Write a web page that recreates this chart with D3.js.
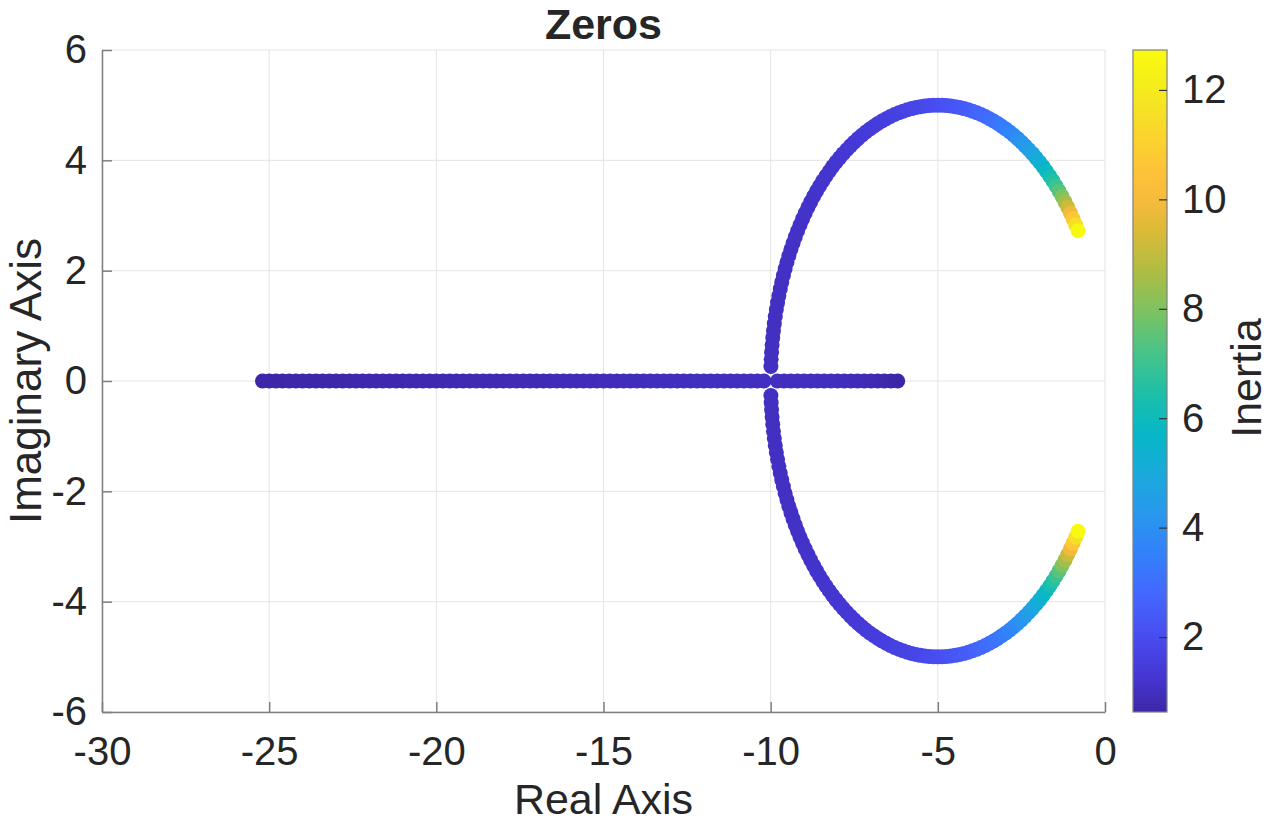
<!DOCTYPE html>
<html><head><meta charset="utf-8">
<script src="https://cdn.jsdelivr.net/npm/d3@7"></script>
<style>
body{margin:0;background:#fff;}
svg{display:block;}
text{font-family:"Liberation Sans",Arial,Helvetica,sans-serif;}
</style>
</head><body>
<svg id="chart" width="1271" height="824"></svg>
<script>
// ---------- data ----------
const xTicks = [-30, -25, -20, -15, -10, -5, 0];
const yTicks = [-6, -4, -2, 0, 2, 4, 6];
const cbTicks = [2, 4, 6, 8, 10, 12];
const inertiaRange = [0.63, 12.73];

// real-axis zeros (real part) and their inertia
const realRe = [
 -25.2,-25.0,-24.8,-24.6,-24.4,-24.2,-24.0,-23.8,-23.6,-23.4,-23.2,-23.0,-22.8,-22.6,-22.4,-22.2,
 -22.0,-21.8,-21.6,-21.4,-21.2,-21.0,-20.8,-20.6,-20.4,-20.2,-20.0,-19.8,-19.6,-19.4,-19.2,-19.0,
 -18.8,-18.6,-18.4,-18.2,-18.0,-17.8,-17.6,-17.4,-17.2,-17.0,-16.8,-16.6,-16.4,-16.2,-16.0,-15.8,
 -15.6,-15.4,-15.2,-15.0,-14.8,-14.6,-14.4,-14.2,-14.0,-13.8,-13.6,-13.4,-13.2,-13.0,-12.8,-12.6,
 -12.4,-12.2,-12.0,-11.8,-11.6,-11.4,-11.2,-11.0,-10.8,-10.6,-10.4,-10.2,
 -9.8,-9.6,-9.4,-9.2,-9.0,-8.8,-8.6,-8.4,-8.2,-8.0,-7.8,-7.6,-7.4,-7.2,-7.0,-6.8,-6.6,-6.4,-6.2
];
const realJ = [
 0.64,0.65,0.65,0.65,0.66,0.66,0.67,0.67,0.67,0.68,0.68,0.69,0.69,0.70,0.70,0.70,
 0.71,0.71,0.72,0.72,0.73,0.73,0.74,0.74,0.75,0.75,0.76,0.76,0.77,0.77,0.78,0.78,
 0.79,0.79,0.80,0.80,0.81,0.82,0.82,0.83,0.83,0.84,0.84,0.85,0.86,0.86,0.87,0.87,
 0.88,0.89,0.89,0.90,0.90,0.91,0.92,0.92,0.93,0.93,0.94,0.94,0.95,0.96,0.96,0.97,
 0.97,0.98,0.98,0.99,0.99,1.00,1.00,1.00,1.00,1.01,1.01,1.01,
 1.01,1.01,1.01,1.00,1.00,0.99,0.98,0.97,0.96,0.95,0.93,0.91,0.89,0.86,0.82,0.79,0.74,0.69,0.63
];

// complex zeros (upper half; each has a conjugate partner) and their inertia
const cplxRe = [
 -9.993,-9.985,-9.973,-9.957,-9.938,-9.916,-9.891,-9.862,-9.830,-9.794,-9.755,-9.713,-9.668,-9.619,-9.568,-9.513,
 -9.455,-9.394,-9.330,-9.263,-9.193,-9.121,-9.045,-8.967,-8.886,-8.802,-8.716,-8.627,-8.536,-8.442,-8.346,-8.247,
 -8.147,-8.044,-7.939,-7.832,-7.723,-7.613,-7.500,-7.386,-7.270,-7.153,-7.034,-6.913,-6.792,-6.669,-6.545,-6.420,
 -6.294,-6.167,-6.040,-5.911,-5.782,-5.653,-5.523,-5.392,-5.262,-5.131,-5.000,-4.869,-4.738,-4.608,-4.477,-4.347,
 -4.218,-4.089,-3.960,-3.833,-3.706,-3.580,-3.455,-3.331,-3.208,-3.087,-2.966,-2.847,-2.730,-2.614,-2.500,-2.388,
 -2.277,-2.168,-2.061,-1.956,-1.853,-1.753,-1.654,-1.558,-1.464,-1.373,-1.284,-1.198,-1.114,-1.033,-0.955,-0.879,-0.807
];
const cplxIm = [
 0.262,0.392,0.523,0.653,0.782,0.911,1.040,1.167,1.294,1.420,1.545,1.669,1.792,1.913,2.034,2.153,
 2.270,2.386,2.500,2.613,2.723,2.832,2.939,3.044,3.147,3.247,3.346,3.442,3.536,3.627,3.716,3.802,
 3.886,3.967,4.045,4.121,4.193,4.263,4.330,4.394,4.455,4.513,4.568,4.619,4.668,4.713,4.755,4.794,
 4.830,4.862,4.891,4.916,4.938,4.957,4.973,4.985,4.993,4.998,5.000,4.998,4.993,4.985,4.973,4.957,
 4.938,4.916,4.891,4.862,4.830,4.794,4.755,4.713,4.668,4.619,4.568,4.513,4.455,4.394,4.330,4.263,
 4.193,4.121,4.045,3.967,3.886,3.802,3.716,3.627,3.536,3.442,3.346,3.247,3.147,3.044,2.939,2.832,2.723
];
const cplxJ = [
 1.021,1.022,1.023,1.024,1.026,1.029,1.031,1.034,1.038,1.041,1.046,1.050,1.055,1.060,1.066,1.072,
 1.079,1.086,1.093,1.101,1.109,1.118,1.128,1.138,1.148,1.159,1.170,1.182,1.195,1.208,1.222,1.237,
 1.252,1.268,1.285,1.302,1.321,1.340,1.360,1.381,1.403,1.426,1.450,1.475,1.502,1.529,1.558,1.589,
 1.621,1.654,1.689,1.726,1.764,1.804,1.847,1.892,1.939,1.988,2.040,2.095,2.153,2.214,2.278,2.346,
 2.418,2.495,2.575,2.661,2.752,2.849,2.952,3.062,3.179,3.305,3.439,3.582,3.736,3.902,4.080,4.272,
 4.480,4.705,4.949,5.214,5.503,5.819,6.166,6.546,6.965,7.428,7.942,8.515,9.154,9.872,10.682,11.600,12.645
];

// parula-like colormap stops
const parulaStops = [
 [0.00,[62,38,168]],[0.06,[69,56,214]],[0.12,[72,78,241]],[0.18,[67,104,254]],
 [0.24,[50,129,250]],[0.30,[40,152,236]],[0.36,[26,170,220]],[0.42,[5,183,198]],
 [0.48,[28,191,170]],[0.54,[70,195,138]],[0.60,[120,195,100]],[0.66,[170,189,70]],
 [0.72,[215,186,55]],[0.77,[246,186,60]],[0.81,[254,192,58]],[0.87,[250,212,45]],
 [0.93,[244,232,32]],[1.00,[249,251,14]]
];

// ---------- chart ----------
const svg = d3.select("#chart");
const plot = {left:102, right:1105, top:50, bottom:712};
const x = d3.scaleLinear().domain([-30,0]).range([plot.left, plot.right]);
const y = d3.scaleLinear().domain([-6,6]).range([plot.bottom, plot.top]);
const cbY = d3.scaleLinear().domain(inertiaRange).range([plot.bottom, plot.top]);

const pScale = d3.scaleLinear()
  .domain(parulaStops.map(d=>d[0]))
  .range(parulaStops.map(d=>d3.rgb(...d[1])))
  .interpolate(d3.interpolateRgb).clamp(true);
const tScale = d3.scaleLinear().domain(inertiaRange).range([0,1]).clamp(true);
const color = v => pScale(tScale(v));

// grid
const grid = svg.append("g");
grid.selectAll("line.gx").data(xTicks).join("line")
  .attr("x1",d=>x(d)).attr("x2",d=>x(d)).attr("y1",plot.top).attr("y2",plot.bottom)
  .attr("stroke","#e4e4e4").attr("stroke-width",1);
grid.selectAll("line.gy").data(yTicks).join("line")
  .attr("x1",plot.left).attr("x2",plot.right).attr("y1",d=>y(d)).attr("y2",d=>y(d))
  .attr("stroke","#e4e4e4").attr("stroke-width",1);

// points
const pts = [];
realRe.forEach((r,i)=>pts.push({re:r, im:0, j:realJ[i]}));
cplxRe.forEach((r,i)=>pts.push({re:r, im:cplxIm[i], j:cplxJ[i]}));
cplxRe.forEach((r,i)=>pts.push({re:r, im:-cplxIm[i], j:cplxJ[i]}));
svg.append("g").selectAll("circle").data(pts).join("circle")
  .attr("cx",d=>x(d.re)).attr("cy",d=>y(d.im)).attr("r",7.5)
  .attr("fill",d=>color(d.j));

// axes
const axColor = "#7f7f7f";
const tickFont = 40;
const fmt = d => d3.format("d")(d).replace("\u2212","-");
const gx = svg.append("g").attr("transform",`translate(0,${plot.bottom})`)
  .call(d3.axisBottom(x).tickValues(xTicks).tickSizeInner(-10).tickSizeOuter(0).tickPadding(25).tickFormat(fmt));
const gy = svg.append("g").attr("transform",`translate(${plot.left},0)`)
  .call(d3.axisLeft(y).tickValues(yTicks).tickSizeInner(-10).tickSizeOuter(0).tickPadding(15).tickFormat(fmt));
[gx,gy].forEach(g=>{
  g.select(".domain").attr("stroke",axColor).attr("stroke-width",1.5);
  g.selectAll(".tick line").attr("stroke",axColor).attr("stroke-width",1.5);
  g.selectAll(".tick text").attr("fill","#262626").attr("font-size",tickFont)
    .attr("font-family","'Liberation Sans',Arial,Helvetica,sans-serif");
});

// colorbar
const cbX = 1133, cbW = 34;
const defs = svg.append("defs");
const grad = defs.append("linearGradient").attr("id","cbgrad")
  .attr("x1",0).attr("y1",1).attr("x2",0).attr("y2",0);
d3.range(0,1.0001,0.02).forEach(t=>{
  grad.append("stop").attr("offset",t).attr("stop-color",pScale(t));
});
svg.append("rect").attr("x",cbX).attr("y",plot.top).attr("width",cbW)
  .attr("height",plot.bottom-plot.top).attr("fill","url(#cbgrad)")
  .attr("stroke",axColor).attr("stroke-width",1.2);
const gc = svg.append("g").attr("transform",`translate(${cbX+cbW},0)`)
  .call(d3.axisRight(cbY).tickValues(cbTicks).tickSizeInner(-8).tickSizeOuter(0).tickPadding(15).tickFormat(fmt));
gc.select(".domain").remove();
gc.selectAll(".tick line").attr("stroke","#333").attr("stroke-width",1.2);
gc.selectAll(".tick text").attr("fill","#262626").attr("font-size",tickFont)
  .attr("font-family","'Liberation Sans',Arial,Helvetica,sans-serif");

// labels
svg.append("text").attr("x",(plot.left+plot.right)/2).attr("y",39)
  .attr("text-anchor","middle").attr("font-size",43).attr("font-weight","bold")
  .attr("fill","#262626").text("Zeros");
svg.append("text").attr("x",(plot.left+plot.right)/2).attr("y",814)
  .attr("text-anchor","middle").attr("font-size",43).attr("fill","#262626").text("Real Axis");
svg.append("text").attr("transform",`translate(41,${(plot.top+plot.bottom)/2}) rotate(-90)`)
  .attr("text-anchor","middle").attr("font-size",44).attr("fill","#262626").text("Imaginary Axis");
svg.append("text").attr("transform",`translate(1261,378) rotate(-90)`)
  .attr("text-anchor","middle").attr("font-size",43).attr("fill","#262626").text("Inertia");
</script>
</body></html>
